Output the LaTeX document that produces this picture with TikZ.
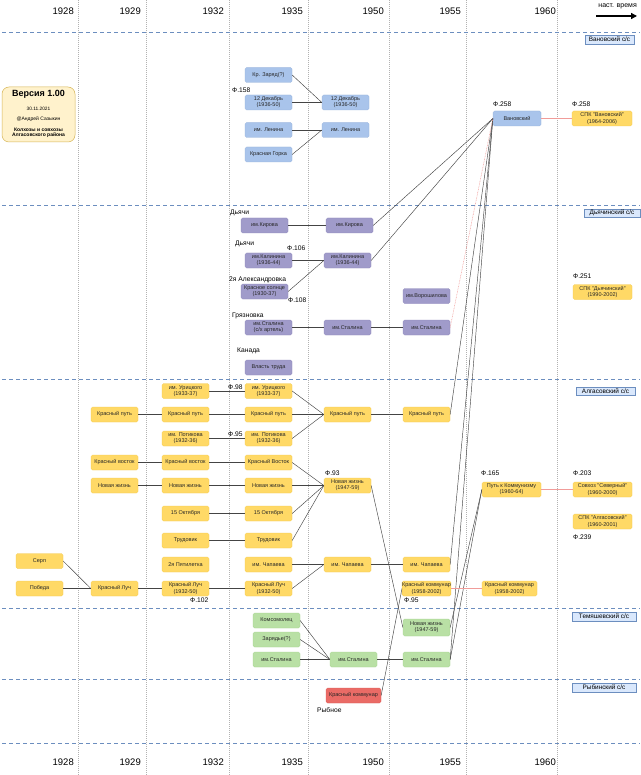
\documentclass[tikz,border=0pt]{standalone}
\usepackage{fontspec}
\setmainfont{Liberation Sans}
\usetikzlibrary{arrows.meta}
\definecolor{cBlue}{HTML}{A9C4EB}
\definecolor{cBlueD}{HTML}{94B0DA}
\definecolor{cPur}{HTML}{A09BCA}
\definecolor{cPurD}{HTML}{8C86BA}
\definecolor{cYel}{HTML}{FFD966}
\definecolor{cYelD}{HTML}{F2C94C}
\definecolor{cGrn}{HTML}{B9E0A5}
\definecolor{cGrnD}{HTML}{A3D18C}
\definecolor{cRed}{HTML}{EA6B66}
\definecolor{cRedD}{HTML}{D85A55}
\definecolor{cSec}{HTML}{DAE8FC}
\definecolor{cSecD}{HTML}{6C8EBF}
\definecolor{cVer}{HTML}{FFF2CC}
\definecolor{cVerD}{HTML}{D6B656}
\definecolor{cPink}{HTML}{F19C99}
\definecolor{cEdge}{HTML}{444444}
\newcommand\bxf{\fontsize{5.5}{6.1}\selectfont}
\newcommand\lbf{\fontsize{6.7}{7.7}\selectfont}
\newcommand\yrf{\fontsize{9.5}{11}\selectfont}
\newcommand\secf{\fontsize{6.4}{7}\selectfont}
\tikzset{
  box/.style={rounded corners=1.5pt, minimum width=47pt, minimum height=15pt, inner sep=0pt, align=center, font=\bxf, text=black!85, line width=0.3pt},
  bl/.style={box, fill=cBlue, draw=cBlueD},
  pu/.style={box, fill=cPur, draw=cPurD},
  ye/.style={box, fill=cYel, draw=cYelD},
  gr/.style={box, fill=cGrn, draw=cGrnD},
  rd/.style={box, fill=cRed, draw=cRedD},
  lbl/.style={anchor=west, inner sep=0pt, font=\lbf},
  yr/.style={anchor=east, inner sep=0pt, font=\yrf},
  sec/.style={fill=cSec, draw=cSecD, line width=0.4pt, inner sep=0pt, minimum height=8.5pt, font=\secf},
  edge/.style={draw=cEdge, line width=0.45pt},
  pedge/.style={draw=cPink, line width=0.5pt},
  pdot/.style={draw=cPink, line width=0.5pt, dash pattern=on 0.8pt off 0.8pt},
  hsep/.style={draw=cSecD, line width=0.8pt, dash pattern=on 4pt off 3pt},
  vsep/.style={draw=gray!60, line width=0.5pt, dash pattern=on 1pt off 1pt},
}
\begin{document}
\begin{tikzpicture}[x=1pt,y=-1pt]
\useasboundingbox (0,0) rectangle (640,775);
\fill[white] (0,0) rectangle (640,775);

% vertical dotted separators
\foreach \xx in {78,146,229,308,389,466,557} {\draw[vsep] (\xx,0) -- (\xx,775);}
% horizontal dashed separators
\foreach \yy in {32,205,379,608,679,743} {\draw[hsep] (2,\yy) -- (640,\yy);}

% years
\foreach \xx/\yy in {74/1928,141/1929,224/1932,303/1935,384/1950,461/1955,556/1960} {
  \node[yr] (t\yy) at (\xx,11) {\yy};
  \node[yr] (b\yy) at (\xx,762) {\yy};
}
\node[anchor=east, inner sep=0pt, font=\fontsize{7}{8}\selectfont] (nast) at (637,6) {наст. время};
\coordinate (arA) at (596,16);
\coordinate (arB) at (637,16);
\draw[line width=1.3pt, -{Triangle[length=6pt,width=6pt]}] (arA) -- (arB);

% section labels
\node[sec, minimum width=49pt] (sVan) at (609.5,39.5) {Вановский с/с};
\node[sec, minimum width=56pt] (sDya) at (612,213) {Дьячинский с/с};
\node[sec, minimum width=59pt] (sAlg) at (605.5,391) {Алгасовский с/с};
\node[sec, minimum width=64pt] (sTem) at (604,616.5) {Темяшевский с/с};
\node[sec, minimum width=64pt] (sRyb) at (604,687.5) {Рыбинский с/с};

% version box
\node[fill=cVer, draw=cVerD, line width=0.5pt, rounded corners=7pt, minimum width=73pt, minimum height=55pt] (ver) at (38.5,114.5) {};
\node[inner sep=0pt, font=\fontsize{9}{10}\selectfont\bfseries] (vT) at (38.5,94) {Версия 1.00};
\node[inner sep=0pt, font=\fontsize{4.8}{5}\selectfont] (vD) at (38.5,109) {30.11.2021};
\node[inner sep=0pt, font=\fontsize{5}{5.5}\selectfont] (vA) at (38.5,119.3) {@Андрей Сазыкин};
\node[inner sep=0pt, font=\fontsize{5}{5.5}\selectfont\bfseries] (vK) at (38.5,130) {Колхозы и совхозы};
\node[inner sep=0pt, font=\fontsize{5}{5.5}\selectfont\bfseries] (vR) at (38.5,135.5) {Алгасовского района};

% ---- Vanovsky
\node[bl] (kz) at (268.5,75) {Кр. Заряд(?)};
\node[bl] (dek35) at (268.5,102.5) {12 Декабрь\\(1936-50)};
\node[bl] (len35) at (268.5,130) {им. Ленина};
\node[bl] (gorka) at (268.5,154.5) {Красная Горка};
\node[bl] (dek50) at (345.5,102.5) {12 Декабрь\\(1936-50)};
\node[bl] (len50) at (345.5,130) {им. Ленина};
\node[bl, minimum width=48pt] (van) at (517,118.5) {Вановский};
\node[ye, minimum width=60pt] (spkvan) at (602,118.5) {СПК "Вановский"\\(1964-2006)};
\node[lbl] (f158) at (232,90) {Ф.158};
\node[lbl] (f258a) at (493,104) {Ф.258};
\node[lbl] (f258b) at (572,104) {Ф.258};

% ---- Dyachinsky
\node[pu] (kir35) at (264.5,225.5) {им.Кирова};
\node[pu] (kal35) at (268.5,260.5) {им.Калинина\\(1936-44)};
\node[pu] (sol) at (264.5,291.5) {Красное солнце\\(1930-37)};
\node[pu] (sta35) at (268.5,327.5) {им.Сталина\\(с/х артель)};
\node[pu] (vlast) at (268.5,367.5) {Власть труда};
\node[pu] (kir50) at (349.5,225.5) {им.Кирова};
\node[pu] (kal50) at (347.5,260.5) {им.Калинина\\(1936-44)};
\node[pu] (sta50) at (347.5,327.5) {им.Сталина};
\node[pu] (vor) at (426.5,296) {им.Ворошилова};
\node[pu] (sta55) at (426.5,327.5) {им.Сталина};
\node[ye, minimum width=59pt] (spkd) at (602.5,292) {СПК "Дьячинский"\\(1990-2002)};
\node[lbl] (dy1) at (230,213) {Дьячи};
\node[lbl] (dy2) at (235,244) {Дьячи};
\node[lbl] (f106) at (287,248) {Ф.106};
\node[lbl] (alex) at (229,280) {2я Александровка};
\node[lbl] (f108) at (288,300) {Ф.108};
\node[lbl] (gryaz) at (232,316) {Грязновка};
\node[lbl] (kanada) at (237,351) {Канада};
\node[lbl] (f251) at (573,276) {Ф.251};

% ---- Algasovsky
\node[ye] (ur32) at (185.5,391) {им. Урицкого\\(1933-37)};
\node[ye] (ur35) at (268.5,391) {им. Урицкого\\(1933-37)};
\node[ye] (kp29) at (114.5,414.5) {Красный путь};
\node[ye] (kp32) at (185.5,414.5) {Красный путь};
\node[ye] (kp35) at (268.5,414.5) {Красный путь};
\node[ye] (pot32) at (185.5,438.5) {им. Потикова\\(1932-36)};
\node[ye] (pot35) at (268.5,438.5) {им. Потикова\\(1932-36)};
\node[ye] (kv29) at (114.5,462.5) {Красный восток};
\node[ye] (kv32) at (185.5,462.5) {Красный восток};
\node[ye] (kv35) at (268.5,462.5) {Красный Восток};
\node[ye] (nz29) at (114.5,485.5) {Новая жизнь};
\node[ye] (nz32) at (185.5,485.5) {Новая жизнь};
\node[ye] (nz35) at (268.5,485.5) {Новая жизнь};
\node[ye] (okt32) at (185.5,513.5) {15 Октября};
\node[ye] (okt35) at (268.5,513.5) {15 Октября};
\node[ye] (tr32) at (185.5,540.5) {Трудовик};
\node[ye] (tr35) at (268.5,540.5) {Трудовик};
\node[ye] (pyat) at (185.5,564.5) {2я Пятилетка};
\node[ye] (cha35) at (268.5,564.5) {им. Чапаева};
\node[ye] (serp) at (39.5,561) {Серп};
\node[ye] (pob) at (39.5,588.5) {Победа};
\node[ye] (kl29) at (114.5,588.5) {Красный Луч};
\node[ye] (kl32) at (185.5,588.5) {Красный Луч\\(1932-50)};
\node[ye] (kl35) at (268.5,588.5) {Красный Луч\\(1932-50)};
\node[ye] (kp50) at (347.5,414.5) {Красный путь};
\node[ye] (nz50) at (347.5,485.5) {Новая жизнь\\(1947-59)};
\node[ye] (cha50) at (347.5,564.5) {им. Чапаева};
\node[ye] (kp55) at (426.5,414.5) {Красный путь};
\node[ye] (cha55) at (426.5,564.5) {им. Чапаева};
\node[ye] (kk55) at (426.5,588.5) {Красный коммунар\\(1958-2002)};
\node[ye, minimum width=59pt] (put) at (511.5,489.5) {Путь к Коммунизму\\(1960-64)};
\node[ye, minimum width=55pt] (kk60) at (509.5,588.5) {Красный коммунар\\(1958-2002)};
\node[ye, minimum width=59pt] (sev) at (602.5,489.5) {Совхоз "Северный"\\(1960-2000)};
\node[ye, minimum width=59pt] (spka) at (602.5,521.5) {СПК "Алгасовский"\\(1960-2001)};
\node[lbl] (f98) at (228,387) {Ф.98};
\node[lbl] (f95a) at (228,434) {Ф.95};
\node[lbl] (f102) at (190,600) {Ф.102};
\node[lbl] (f93) at (325,473) {Ф.93};
\node[lbl] (f95b) at (404,600) {Ф.95};
\node[lbl] (f165) at (481,473) {Ф.165};
\node[lbl] (f203) at (573,473) {Ф.203};
\node[lbl] (f239) at (573,537) {Ф.239};

% ---- Temyashevsky
\node[gr] (kom) at (276.5,620.5) {Комсомолец};
\node[gr] (zar) at (276.5,639.5) {Зарядье(?)};
\node[gr] (tst35) at (276.5,659.5) {им.Сталина};
\node[gr] (tst50) at (353.5,659.5) {им.Сталина};
\node[gr, minimum height=17pt] (tnz) at (426.5,627.5) {Новая жизнь\\(1947-59)};
\node[gr] (tst55) at (426.5,659.5) {им.Сталина};

% ---- Rybinsky
\node[rd, minimum width=55pt] (red) at (353.5,695.5) {Красный коммунар};
\node[lbl] (ryb) at (317,710) {Рыбное};

% ---- edges
\draw[edge] (kz.east) -- (dek50.west);
\draw[edge] (dek35) -- (dek50);
\draw[edge] (len35) -- (len50);
\draw[edge] (gorka.east) -- (len50.west);

\draw[edge] (kir35) -- (kir50);
\draw[edge] (kal35) -- (kal50);
\draw[edge] (sol.east) -- (kal50.west);
\draw[edge] (sta35) -- (sta50);
\draw[edge] (sta50) -- (sta55);

\draw[edge] (van.west) -- (kir50.east);
\draw[edge] (van.west) -- (kal50.east);
\draw[edge] (van.west) -- (kp55.east);
\draw[edge] (van.west) -- (cha55.east);
\draw[edge] (van.west) -- (tst55.east);
\draw[pdot] (van.west) -- (sta55.east);

\draw[edge] (ur32) -- (ur35);
\draw[edge] (kp29) -- (kp32);
\draw[edge] (kp32) -- (kp35);
\draw[edge] (pot32) -- (pot35);
\draw[edge] (kv29) -- (kv32);
\draw[edge] (kv32) -- (kv35);
\draw[edge] (nz29) -- (nz32);
\draw[edge] (nz32) -- (nz35);
\draw[edge] (okt32) -- (okt35);
\draw[edge] (tr32) -- (tr35);
\draw[edge] (serp.east) -- (kl29.west);
\draw[edge] (pob) -- (kl29);
\draw[edge] (kl29) -- (kl32);
\draw[edge] (kl32) -- (kl35);

\draw[edge] (ur35.east) -- (kp50.west);
\draw[edge] (kp35) -- (kp50);
\draw[edge] (pot35.east) -- (kp50.west);
\draw[edge] (kv35.east) -- (nz50.west);
\draw[edge] (nz35) -- (nz50);
\draw[edge] (okt35.east) -- (nz50.west);
\draw[edge] (tr35.east) -- (nz50.west);
\draw[edge] (cha35) -- (cha50);
\draw[edge] (kl35.east) -- (cha50.west);

\draw[edge] (kp50) -- (kp55);
\draw[edge] (cha50) -- (cha55);
\draw[edge] (nz50.east) -- (tnz.west);
\draw[edge] (red.east) -- (kk55.west);
\draw[edge] (put.west) -- (tnz.east);
\draw[edge] (put.west) -- (tst55.east);

\draw[edge] (kom.east) -- (tst50.west);
\draw[edge] (zar.east) -- (tst50.west);
\draw[edge] (tst35) -- (tst50);
\draw[edge] (tst50) -- (tst55);

\draw[pedge] (van) -- (spkvan);
\draw[pedge] (put) -- (sev);
\draw[pedge] (kk55) -- (kk60);
\end{tikzpicture}
\end{document}
